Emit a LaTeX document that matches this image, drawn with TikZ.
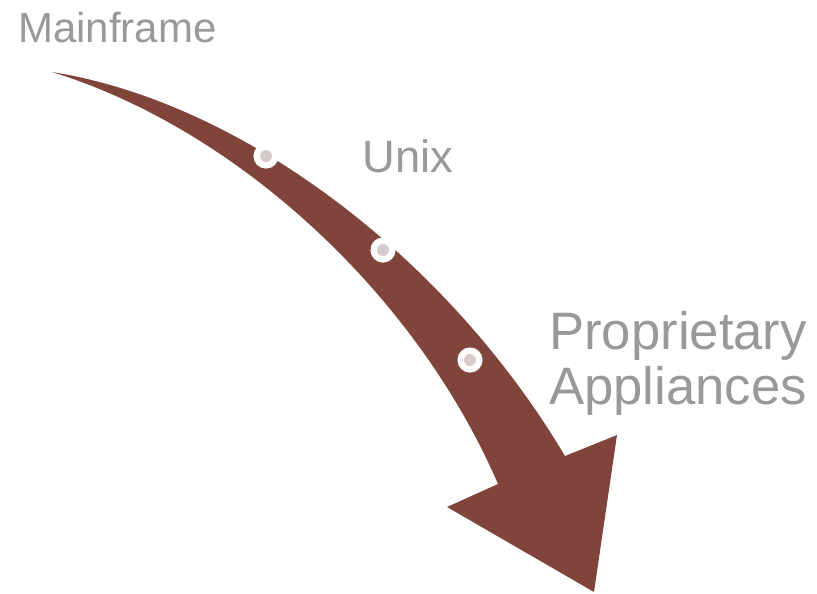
\documentclass[tikz,border=0pt]{standalone}
\usepackage{fontspec}
\setmainfont{Liberation Sans}
\definecolor{arrowbrown}{HTML}{80443A}
\definecolor{labelgray}{HTML}{999999}
\definecolor{dotgray}{HTML}{D6CACA}
\begin{document}
\begin{tikzpicture}[x=0.75pt,y=-0.75pt,
  label/.style={text=labelgray,inner sep=0pt,anchor=base west},
  milestone/.style={circle,fill=dotgray,draw=white,line width=4.8pt,minimum size=14pt,inner sep=0pt}]
\useasboundingbox (0,0) rectangle (817,593);
% curved arrow
\fill[arrowbrown] (52,72) .. controls (241,102) and (446,256) .. (565,456)
  -- (617,435) -- (594,592) -- (447,507) -- (498,484)
  .. controls (416,294) and (237,129) .. (52,72) -- cycle;
% milestones along the shaft
\node[milestone] (m1) at (266,156) {};
\node[milestone] (m2) at (383,250) {};
\node[milestone] (m3) at (470,360) {};
% labels
\node[label,font=\fontsize{31.5pt}{36pt}\selectfont] (mainframe) at (18,42) {Mainframe};
\node[label,font=\fontsize{34pt}{38pt}\selectfont] (unix) at (362,172) {Unix};
\node[label,font=\fontsize{39.5pt}{41pt}\selectfont] (prop) at (549,349) {Proprietary};
\node[label,font=\fontsize{39.5pt}{41pt}\selectfont] (appl) at (549,404) {Appliances};
\end{tikzpicture}
\end{document}
